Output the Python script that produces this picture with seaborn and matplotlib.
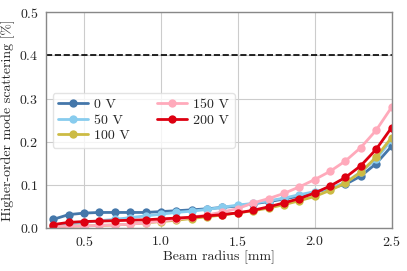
import matplotlib
matplotlib.use("Agg")
import matplotlib.pyplot as plt
import seaborn as sns
import pandas as pd

radius = [0.3, 0.4, 0.5, 0.6, 0.7, 0.8, 0.9, 1.0, 1.1, 1.2, 1.3, 1.4, 1.5,
          1.6, 1.7, 1.8, 1.9, 2.0, 2.1, 2.2, 2.3, 2.4, 2.5]
v0 = [0.021, 0.032, 0.0355, 0.037, 0.037, 0.037, 0.037, 0.039, 0.041, 0.043, 0.0455, 0.0486, 0.052,
      0.057, 0.062, 0.068, 0.075, 0.083, 0.093, 0.102, 0.121, 0.150, 0.190]
v50 = [0.006, 0.010, 0.014, 0.018, 0.021, 0.025, 0.029, 0.033, 0.037, 0.040, 0.044, 0.049, 0.054,
       0.058, 0.064, 0.070, 0.078, 0.085, 0.093, 0.106, 0.131, 0.160, 0.205]
v100 = [0.003, 0.005, 0.006, 0.007, 0.008, 0.010, 0.013, 0.016, 0.019, 0.023, 0.027, 0.031, 0.036,
        0.041, 0.047, 0.055, 0.064, 0.074, 0.088, 0.105, 0.130, 0.165, 0.210]
v150 = [0.004, 0.005, 0.006, 0.007, 0.008, 0.010, 0.013, 0.017, 0.021, 0.026, 0.031, 0.038, 0.046,
        0.059, 0.069, 0.081, 0.096, 0.113, 0.132, 0.156, 0.187, 0.227, 0.280]
v200 = [0.009, 0.014, 0.016, 0.017, 0.018, 0.019, 0.020, 0.022, 0.024, 0.026, 0.029, 0.032, 0.036,
        0.042, 0.050, 0.059, 0.069, 0.082, 0.098, 0.118, 0.145, 0.183, 0.233]
labels = ["0 V", "50 V", "100 V", "150 V", "200 V"]
threshold = 0.4

colors = ["#4477aa", "#88ccee", "#ccbb44", "#ffaabb", "#dd0011"]

sns.set_style("whitegrid")
plt.rcParams["font.family"] = "serif"
plt.rcParams["font.serif"] = ["cmr10", "DejaVu Serif"]
plt.rcParams["mathtext.fontset"] = "cm"
plt.rcParams["axes.formatter.use_mathtext"] = True

rows = []
for lab, vals in zip(labels, [v0, v50, v100, v150, v200]):
    for r, v in zip(radius, vals):
        rows.append({"radius": r, "value": v, "voltage": lab})
df = pd.DataFrame(rows)

fig, ax = plt.subplots(figsize=(4.07, 2.71), dpi=100)
sns.lineplot(data=df, x="radius", y="value", hue="voltage", hue_order=labels,
             palette=colors, marker="o", markersize=6, markeredgewidth=0,
             linewidth=2, ax=ax)
ax.axhline(threshold, color="black", linestyle="--", linewidth=1.2)

ax.set_xlim(0.25, 2.5)
ax.set_ylim(0.0, 0.5)
ax.set_xticks([0.5, 1.0, 1.5, 2.0, 2.5])
ax.set_yticks([0.0, 0.1, 0.2, 0.3, 0.4, 0.5])
ax.set_xlabel("Beam radius [mm]", fontsize=10, labelpad=1)
ax.set_ylabel("Higher-order mode scattering [%]", fontsize=10, labelpad=3)
ax.tick_params(labelsize=10, pad=1.5)
ax.grid(True, color="#cccccc", linewidth=0.8)
for s in ax.spines.values():
    s.set_color("#888888")
    s.set_linewidth(1.0)

ax.legend(title=None, ncol=2, loc="upper left", bbox_to_anchor=(0.02, 0.626),
          borderaxespad=0.0,
          fontsize=10, frameon=True, edgecolor="#dddddd", framealpha=0.8,
          handlelength=2.15, columnspacing=1.95, labelspacing=0.2,
          borderpad=0.4, handletextpad=0.45)

fig.subplots_adjust(left=0.112, right=0.962, top=0.955, bottom=0.157)
fig.savefig("out.png", dpi=100)
